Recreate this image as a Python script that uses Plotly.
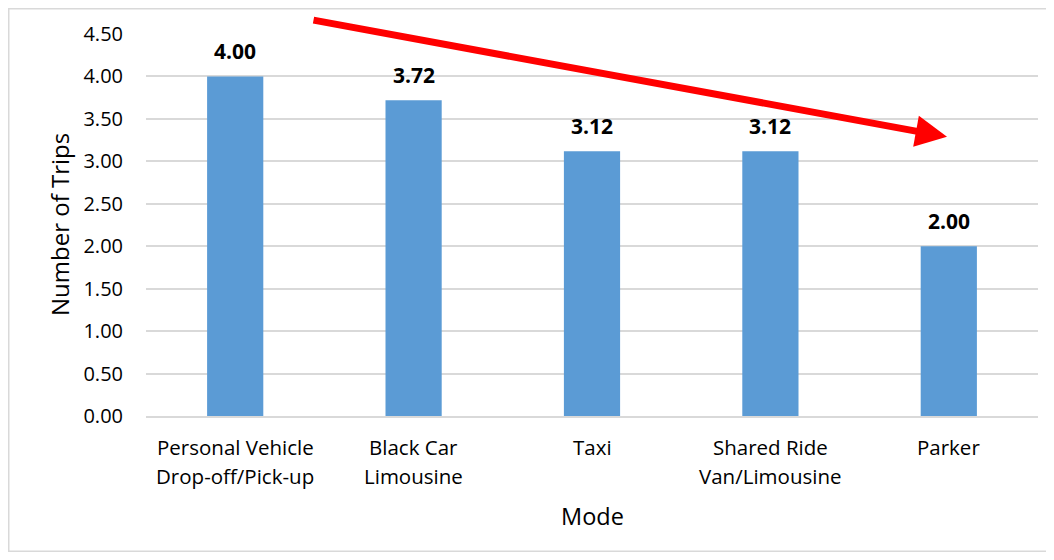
import plotly.graph_objects as go

categories = ["Personal Vehicle<br>Drop-off/Pick-up", "Black Car<br>Limousine", "Taxi",
              "Shared Ride<br>Van/Limousine", "Parker"]
values = [4.00, 3.72, 3.12, 3.12, 2.00]
labels = ["4.00", "3.72", "3.12", "3.12", "2.00"]
y_ticks = [0, 0.5, 1.0, 1.5, 2.0, 2.5, 3.0, 3.5, 4.0, 4.5]

FONT = "'Open Sans', sans-serif"

# page coordinates of the plot area (browser body adds an 8px margin)
OFF = 8
PL, PR, PT, PB = 146, 1038, 34, 416.5
W, H = 1054 - OFF, 560 - OFF
L, T = PL - OFF, PT - OFF
R, B = W - (PR - OFF), H - (PB - OFF)
pw, ph = PR - PL, PB - PT

def px(x):
    return (x - PL) / pw

def py(y):
    return (PB - y) / ph

fig = go.Figure()
fig.add_trace(go.Bar(
    x=list(range(len(categories))), y=values, width=0.315,
    marker=dict(color="#5b9bd5", line=dict(width=0)),
))

# data labels
for i, (v, lab) in enumerate(zip(values, labels)):
    fig.add_annotation(x=i, y=v, xref="x", yref="y", text=f"<b>{lab}</b>",
                       showarrow=False, yanchor="middle", yshift=25,
                       font=dict(family=FONT, size=21, color="#000000"))

# category labels
for i, cat in enumerate(categories):
    for j, line in enumerate(cat.split("<br>")):
        fig.add_annotation(x=i, y=0, xref="x", yref="paper", text=line,
                           showarrow=False, yanchor="middle", yshift=-31 - 29 * j,
                           font=dict(family=FONT, size=20.5, color="#000000"))

# axis titles
fig.add_annotation(x=0.5, y=0, xref="paper", yref="paper", text="Mode",
                   showarrow=False, yanchor="middle", yshift=-100,
                   font=dict(family=FONT, size=23.5, color="#000000"))
fig.add_annotation(x=0, y=0.5, xref="paper", yref="paper", text="Number of Trips",
                   showarrow=False, textangle=-90, xanchor="center", xshift=-87,
                   font=dict(family=FONT, size=24, color="#000000"))

# outer border
fig.add_shape(type="rect", xref="paper", yref="paper",
              x0=px(8.75), x1=px(1047), y0=py(552), y1=py(8.75),
              line=dict(color="#d9d9d9", width=1.5), fillcolor="rgba(0,0,0,0)", layer="below")

# red trend arrow
fig.add_annotation(xref="paper", yref="paper", x=px(947), y=py(137),
                   axref="pixel", ayref="pixel", ax=312 - 947, ay=20 - 137,
                   showarrow=True, arrowhead=2, arrowsize=0.9, arrowwidth=7,
                   arrowcolor="#ff0000", text="")

fig.update_layout(
    width=W, height=H, margin=dict(l=L, r=R, t=T, b=B, autoexpand=False),
    paper_bgcolor="white", plot_bgcolor="white", showlegend=False,
    font=dict(family=FONT, size=20, color="#000000"),
    xaxis=dict(showline=True, linecolor="#d9d9d9", linewidth=2,
               showticklabels=False, ticks="", range=[-0.5, 4.5],
               showgrid=False, zeroline=False),
    yaxis=dict(range=[0, 4.5], tickvals=y_ticks, tickformat=".2f",
               showgrid=True, gridcolor="#d9d9d9", gridwidth=1.5,
               zeroline=False, showline=False, ticks="", ticklabelstandoff=22,
               tickfont=dict(size=20)),
)

fig.write_html("out.html")
